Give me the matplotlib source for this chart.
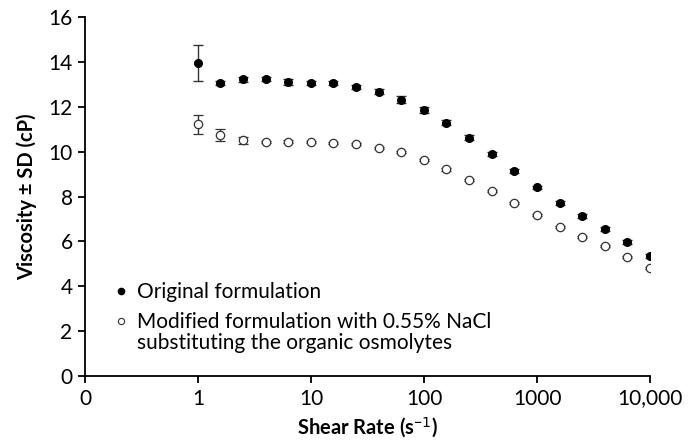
import matplotlib
matplotlib.use('Agg')
import matplotlib.pyplot as plt
from matplotlib.lines import Line2D
from matplotlib.ticker import FixedLocator, FixedFormatter

plt.rcParams['font.family'] = ['Lato', 'DejaVu Sans']

# shear rate (1/s), viscosity (cP) and SD
shear_rate = [1, 1.58, 2.51, 3.98, 6.31, 10, 15.8, 25.1, 39.8, 63.1, 100,
              158, 251, 398, 631, 1000, 1585, 2512, 3981, 6310, 10000]
visc_orig = [13.95, 13.06, 13.22, 13.25, 13.12, 13.07, 13.06, 12.89, 12.68, 12.31, 11.85,
             11.29, 10.62, 9.89, 9.14, 8.41, 7.72, 7.14, 6.56, 5.97, 5.35]
sd_orig = [0.8, 0.1, 0.12, 0.08, 0.13, 0.1, 0.1, 0.1, 0.12, 0.15, 0.12,
           0.12, 0.1, 0.08, 0.08, 0.08, 0.08, 0.08, 0.08, 0.08, 0.08]
visc_mod = [11.21, 10.74, 10.5, 10.44, 10.45, 10.44, 10.40, 10.33, 10.16, 9.97, 9.63,
            9.21, 8.75, 8.24, 7.70, 7.17, 6.65, 6.19, 5.78, 5.32, 4.81]
sd_mod = [0.42, 0.27, 0.15, 0.05, 0.05, 0.05, 0.05, 0.05, 0.05, 0.05, 0.05,
          0.05, 0.05, 0.05, 0.05, 0.05, 0.05, 0.05, 0.05, 0.05, 0.05]

labels = ['Original formulation', 'Modified formulation with 0.55% NaCl']
label_cont = 'substituting the organic osmolytes'
x_ticks = [0.1, 1, 10, 100, 1000, 10000]
x_labels = ['0', '1', '10', '100', '1000', '10,000']

fig = plt.figure(figsize=(6.97, 4.44), dpi=100)
ax = fig.add_axes([0.122, 0.153, 0.8106, 0.8087])

ax.errorbar(shear_rate, visc_orig, yerr=sd_orig, fmt='o', color='black', ms=5.5,
            ecolor='#333333', elinewidth=1, capsize=3.5, capthick=1)
ax.errorbar(shear_rate, visc_mod, yerr=sd_mod, fmt='o', mfc='white', mec='#333333',
            mew=0.9, ms=6, ecolor='#333333', elinewidth=1, capsize=3.5, capthick=1)

ax.set_xscale('log')
ax.set_xlim(0.1, 10000)
ax.xaxis.set_major_locator(FixedLocator(x_ticks))
ax.xaxis.set_major_formatter(FixedFormatter(x_labels))
ax.xaxis.set_minor_locator(FixedLocator([]))
ax.set_ylim(0, 16)
ax.set_yticks(range(0, 17, 2))

for s in ['top', 'right']:
    ax.spines[s].set_visible(False)
for s in ['left', 'bottom']:
    ax.spines[s].set_linewidth(1.3)
ax.tick_params(direction='out', length=5, width=1.3, labelsize=15, pad=4)

ax.set_xlabel('Shear Rate (s$^{\\mathregular{\u2212}1}$)', fontsize=14.5, fontweight='bold', labelpad=5)
ax.set_ylabel('Viscosity \u00b1 SD (cP)', fontsize=14.5, fontweight='bold', labelpad=8)

handles = [Line2D([], [], ls='none', marker='o', color='black', ms=4.5),
           Line2D([], [], ls='none', marker='o', mfc='white', mec='#333333', mew=0.8, ms=4.5)]
leg = ax.legend(handles, labels, loc='upper left', bbox_to_anchor=(0.04, 0.285), frameon=False,
                fontsize=15, handlelength=0.5, handletextpad=0.5, labelspacing=0.5,
                borderaxespad=0)

# second line of the modified-formulation label, just under its first line
fig.canvas.draw()
bb = leg.get_texts()[1].get_window_extent()
W, H = fig.get_size_inches() * fig.dpi
fig.text(bb.x0 / W, (bb.y0 - 21) / H, label_cont, fontsize=15, ha='left', va='bottom')

fig.savefig('out.png', dpi=100)
